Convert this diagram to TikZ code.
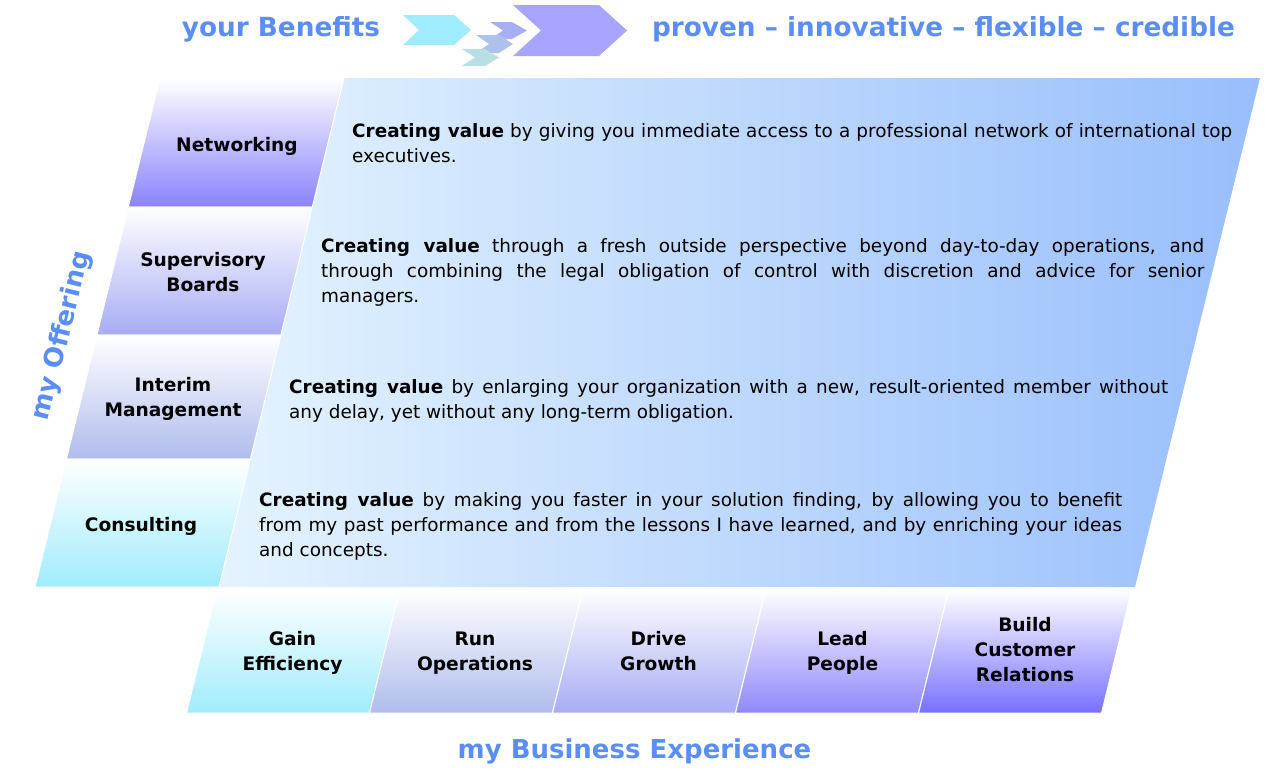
\documentclass[tikz,border=0pt]{standalone}
\usepackage{fontspec}
\setmainfont{DejaVu Sans}
\usetikzlibrary{positioning}

\definecolor{ttlblue}{RGB}{90,142,245}
\definecolor{vlight}{RGB}{228,243,254}
\definecolor{vdark}{RGB}{152,190,252}
\definecolor{netcol}{RGB}{138,130,252}
\definecolor{supcol}{RGB}{168,172,244}
\definecolor{intcol}{RGB}{176,188,236}
\definecolor{concol}{RGB}{160,236,252}
\definecolor{leadcol}{RGB}{144,136,252}
\definecolor{buildcol}{RGB}{120,112,255}

\begin{document}
\begin{tikzpicture}[x=1pt,y=-1pt,
  lab/.style={font=\bfseries\fontsize{18.6}{25}\selectfont,align=center,inner sep=0pt},
  txt/.style={font=\fontsize{18.4}{25}\selectfont,align=justify,anchor=north west,inner sep=0pt},
  ttl/.style={font=\bfseries\fontsize{26.3}{30}\selectfont,text=ttlblue,inner sep=0pt},
  cell/.style={draw=white,line width=1pt}]
\useasboundingbox (0,0) rectangle (1286,774);

% arrows at the top
\fill[fill={rgb,255:red,160;green,236;blue,255}] (403,15) -- (454,15) -- (471,30) -- (454,45) -- (403,45) -- (419,30) -- cycle;
\fill[fill={rgb,255:red,168;green,176;blue,244}] (490,22) -- (512,22) -- (527,30.5) -- (512,39) -- (490,39) -- (503,30.5) -- cycle;
\fill[fill={rgb,255:red,176;green,192;blue,236}] (476,35) -- (499,35) -- (513,44) -- (499,53) -- (476,53) -- (489,44) -- cycle;
\fill[fill={rgb,255:red,184;green,224;blue,228}] (462,49) -- (485,49) -- (499,57.5) -- (485,66) -- (462,66) -- (475,57.5) -- cycle;
\fill[fill={rgb,255:red,168;green,164;blue,255}] (513,5) -- (599,5) -- (627,30.5) -- (599,56) -- (513,56) -- (541,30.5) -- cycle;

\node[ttl,anchor=base] (ben) at (281,36.7) {your Benefits};
\node[ttl,anchor=base] (prov) at (943.5,36.7) {proven – innovative – flexible – credible};

% offering column and value area
\shade[left color=vlight,right color=vdark] (344,78) -- (1260,78) -- (1135,587) -- (219,587) -- cycle;
\shade[cell,top color=white,bottom color=netcol] (160,78) -- (344,78) -- (312.3,207) -- (128.3,207) -- cycle;
\shade[cell,top color=white,bottom color=supcol] (128.3,207) -- (312.3,207) -- (280.9,335) -- (96.9,335) -- cycle;
\shade[cell,top color=white,bottom color=intcol] (96.9,335) -- (280.9,335) -- (250.4,459) -- (66.4,459) -- cycle;
\shade[cell,top color=white,bottom color=concol] (66.4,459) -- (250.4,459) -- (219,587) -- (35,587) -- cycle;

\node[lab] (net) at (237,146) {Networking};
\node[lab] (sup) at (203,272) {Supervisory\\Boards};
\node[lab] (int) at (173,399) {Interim\\Management};
\node[lab] (con) at (141,526) {Consulting};

\node[txt,text width=880pt] (vnet) at (352,123.3) {\textbf{Creating value} by giving you immediate access to a professional network of international top\linebreak executives.};
\node[txt,text width=883pt] (vsup) at (321,238.7) {\textbf{Creating value} through a fresh outside perspective beyond day-to-day operations, and\linebreak through combining the legal obligation of control with discretion and advice for senior\linebreak managers.};
\node[txt,text width=879pt] (vint) at (289,379) {\textbf{Creating value} by enlarging your organization with a new, result-oriented member without\linebreak any delay, yet without any long-term obligation.};
\node[txt,text width=863pt] (vcon) at (259,492.7) {\textbf{Creating value} by making you faster in your solution finding, by allowing you to benefit\linebreak from my past performance and from the lessons I have learned, and by enriching your ideas\linebreak and concepts.};

\node[ttl,font=\bfseries\fontsize{26}{30}\selectfont,rotate=76] (off) at (62,336) {my Offering};

% business experience row
\shade[cell,top color=white,bottom color=concol] (217,589) -- (400,589) -- (369.5,713) -- (186.5,713) -- cycle;
\shade[cell,top color=white,bottom color=intcol] (400,589) -- (583,589) -- (552.5,713) -- (369.5,713) -- cycle;
\shade[cell,top color=white,bottom color=supcol] (583,589) -- (766,589) -- (735.5,713) -- (552.5,713) -- cycle;
\shade[cell,top color=white,bottom color=leadcol] (766,589) -- (949,589) -- (918.5,713) -- (735.5,713) -- cycle;
\shade[cell,top color=white,bottom color=buildcol] (949,589) -- (1132,589) -- (1101.5,713) -- (918.5,713) -- cycle;

\node[lab] (gain) at (292.5,653) {Gain\\Efficiency};
\node[lab] (run) at (475,653) {Run\\Operations};
\node[lab] (drive) at (658.5,651) {Drive\\Growth};
\node[lab] (lead) at (842.5,653) {Lead\\People};
\node[lab] (build) at (1025,650) {Build\\Customer\\Relations};

\node[ttl,font=\bfseries\fontsize{26}{30}\selectfont,anchor=base] (exp) at (634.5,758.3) {my Business Experience};

\end{tikzpicture}
\end{document}
